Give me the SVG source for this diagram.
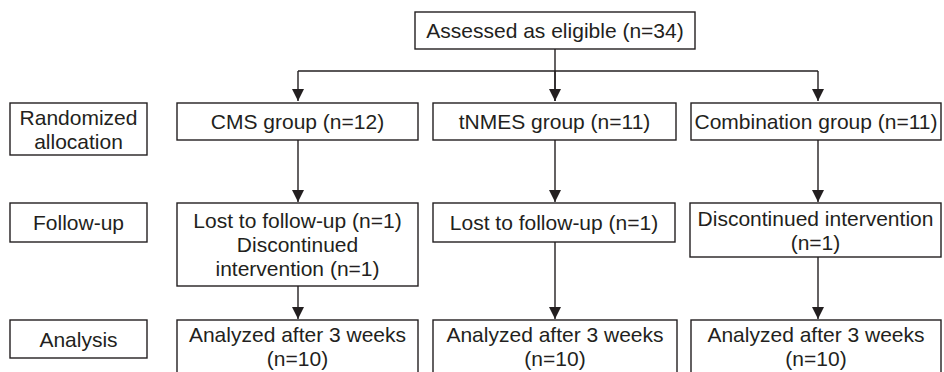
<svg xmlns="http://www.w3.org/2000/svg" width="944" height="372" viewBox="0 0 944 372">
<defs>
<style>
rect{fill:#fff;stroke:#231f20;stroke-width:1.4}
text{font-family:"Liberation Sans",Arial,sans-serif;font-size:21px;fill:#231f20;text-anchor:middle}
.c{fill:none;stroke:#231f20;stroke-width:1.4}
</style>
<marker id="ah" markerWidth="12" markerHeight="12" viewBox="0 0 12 12" refX="12" refY="6" orient="auto" markerUnits="userSpaceOnUse">
<path d="M0,0 L12,6 L0,12 Z" fill="#231f20"/>
</marker>
</defs>
<g id="connectors">
<path class="c" d="M555,49 V101"/>
<path class="c" d="M298,71 H818"/>
<path class="c" d="M298,71 V101" marker-end="url(#ah)"/>
<path class="c" d="M555,71 V101" marker-end="url(#ah)"/>
<path class="c" d="M818,71 V101" marker-end="url(#ah)"/>
<path class="c" d="M298,140 V202" marker-end="url(#ah)"/>
<path class="c" d="M555,140 V202" marker-end="url(#ah)"/>
<path class="c" d="M818,140 V202" marker-end="url(#ah)"/>
<path class="c" d="M298,286 V319" marker-end="url(#ah)"/>
<path class="c" d="M555,242 V319" marker-end="url(#ah)"/>
<path class="c" d="M818,257 V319" marker-end="url(#ah)"/>
</g>
<g id="eligible"><rect x="415" y="12" width="280" height="37"/><text x="555" y="38">Assessed as eligible (n=34)</text></g>
<g id="lbl-random"><rect x="10" y="103" width="137" height="52"/><text x="78.5" y="124.5">Randomized</text><text x="78.5" y="148.5">allocation</text></g>
<g id="cms"><rect x="177" y="103" width="241" height="37"/><text x="297.5" y="129">CMS group (n=12)</text></g>
<g id="tnmes"><rect x="433" y="103" width="243" height="37"/><text x="554.5" y="129">tNMES group (n=11)</text></g>
<g id="combo"><rect x="691" y="103" width="250" height="37"/><text x="816" y="129">Combination group (n=11)</text></g>
<g id="lbl-follow"><rect x="10" y="203" width="137" height="39"/><text x="78.5" y="230">Follow-up</text></g>
<g id="cms-fu"><rect x="177" y="203" width="241" height="83"/><text x="297.5" y="228">Lost to follow-up (n=1)</text><text x="297.5" y="252">Discontinued</text><text x="297.5" y="276">intervention (n=1)</text></g>
<g id="tnmes-fu"><rect x="433" y="203" width="242" height="39"/><text x="554" y="230">Lost to follow-up (n=1)</text></g>
<g id="combo-fu"><rect x="690" y="203" width="251" height="54"/><text x="815.5" y="225.5">Discontinued intervention</text><text x="815.5" y="249.5">(n=1)</text></g>
<g id="lbl-analysis"><rect x="10" y="320" width="137" height="38"/><text x="78.5" y="346.5">Analysis</text></g>
<g id="cms-an"><rect x="177" y="320" width="241" height="60"/><text x="297.5" y="341.5">Analyzed after 3 weeks</text><text x="297.5" y="365.5">(n=10)</text></g>
<g id="tnmes-an"><rect x="433" y="320" width="244" height="60"/><text x="555" y="341.5">Analyzed after 3 weeks</text><text x="555" y="365.5">(n=10)</text></g>
<g id="combo-an"><rect x="691" y="320" width="250" height="60"/><text x="816" y="341.5">Analyzed after 3 weeks</text><text x="816" y="365.5">(n=10)</text></g>
</svg>
